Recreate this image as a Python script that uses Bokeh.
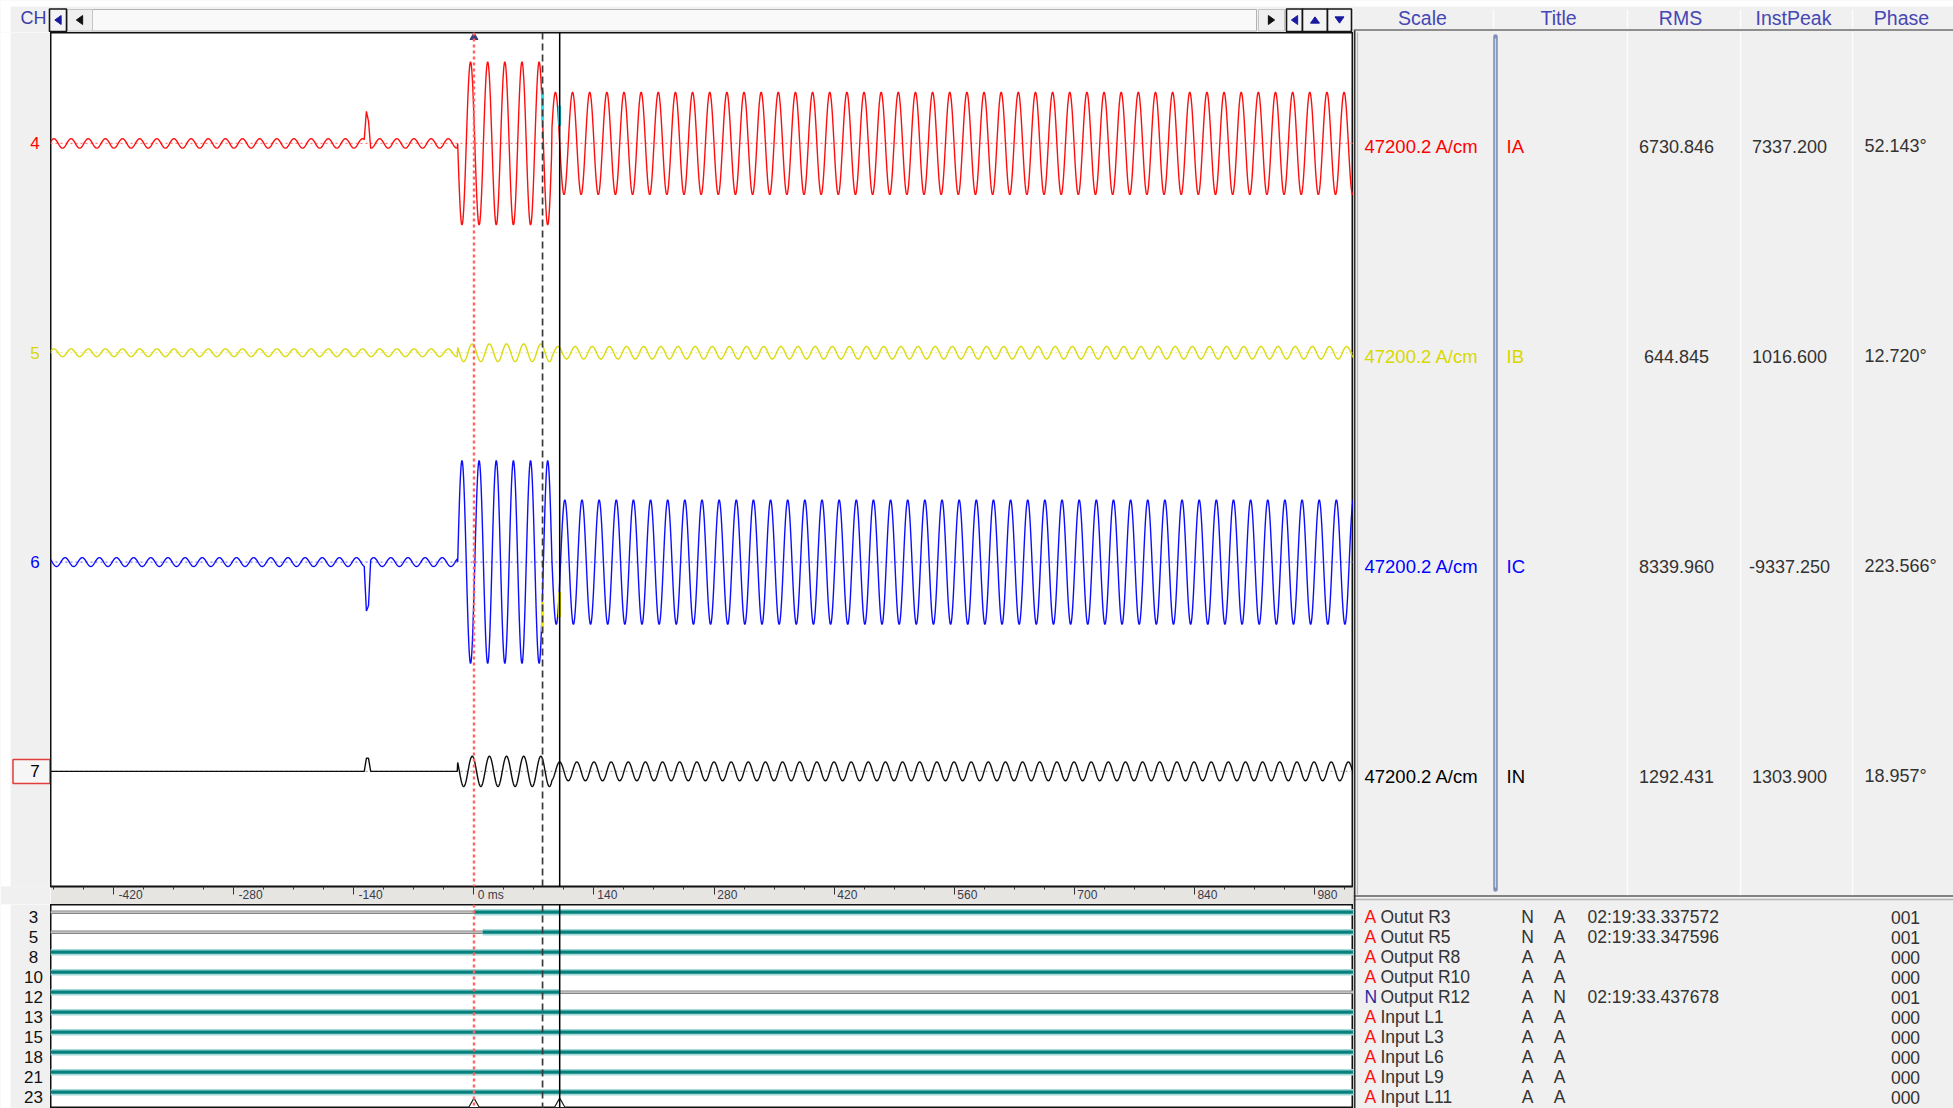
import numpy as np
from bokeh.plotting import figure
from bokeh.models import (Range1d, SingleIntervalTicker, CustomJSTickFormatter, Span)
from bokeh.layouts import row, column
from bokeh.core.properties import value
from bokeh.embed import file_html
from bokeh.resources import INLINE

# ---------------- values ----------------
TIME_WINDOW_MS = [-494, 1026]
FREQ_HZ = 50
TRIGGER_TIME = "02:19:33.337572"

CH_NUMBERS = ["4", "5", "6", "7"]
CH_TITLES = ["IA", "IB", "IC", "IN"]
CH_SCALES = ["47200.2 A/cm", "47200.2 A/cm", "47200.2 A/cm", "47200.2 A/cm"]
CH_RMS = ["6730.846", "644.845", "8339.960", "1292.431"]
CH_INSTPEAK = ["7337.200", "1016.600", "-9337.250", "1303.900"]
CH_PHASE = ["52.143°", "12.720°", "223.566°", "18.957°"]
TABLE_HEADERS = ["Scale", "Title", "RMS", "InstPeak", "Phase"]

# waveform segments: pre-fault | fault | after first change  (peak kA, time of a positive peak ms)
SEGMENT_EDGES_MS = [-19, 91]
IA_AMP_KA = [0.9, 15.6, 9.8]
IA_PEAK_MS = [10, 16, 15]
IB_AMP_KA = [0.75, 1.7, 1.2]
IB_PEAK_MS = [10, 18, 18]
IC_AMP_KA = [0.85, 19.4, 11.9]
IC_PEAK_MS = [3, 6, 6]
IN_AMP_KA = [0.0, 2.9, 1.8]
IN_PEAK_MS = [0, 18, 0]

# short transient seen at about -124 ms
SPIKE_MS = [-128.0, -125.5, -123.0, -120.5]
IA_SPIKE_KA = [0.0, 6.0, 4.8, 0.0]
IB_SPIKE_KA = [0.0, 0.0, 0.0, 0.0]
IC_SPIKE_KA = [0.0, -8.6, -8.0, 0.0]
IN_SPIKE_KA = [0.0, 2.5, 2.5, 0.0]

CURSOR_MS = [0, 80, 100]
MARK_MS = [80, 100]
IA_MARK_KA = [[4.4, 10.1], [3.4, 7.2]]
IC_MARK_KA = [[-7.6, -13.3], [-5.7, -10.5]]

DIG_CH = ["3", "5", "8", "10", "12", "13", "15", "18", "21", "23"]
DIG_NAME = ["Outut R3", "Outut R5", "Output R8", "Output R10", "Output R12",
            "Input L1", "Input L3", "Input L6", "Input L9", "Input L11"]
DIG_STATE = ["A", "A", "A", "A", "N", "A", "A", "A", "A", "A"]
DIG_COL1 = ["N", "N", "A", "A", "A", "A", "A", "A", "A", "A"]
DIG_COL2 = ["A", "A", "A", "A", "N", "A", "A", "A", "A", "A"]
DIG_TIME = ["02:19:33.337572", "02:19:33.347596", "", "", "02:19:33.437678",
            "", "", "", "", ""]
DIG_COUNT = ["001", "001", "000", "000", "001", "000", "000", "000", "000", "000"]
DIG_INITIAL = [0, 0, 1, 1, 1, 1, 1, 1, 1, 1]

# ---------------- layout / style ----------------
TOPBAR_H, WAVE_H, RULER_H, DIG_H = 32, 857, 15, 204
COL_W, PLOT_W, PANEL_W = 50, 1303, 600
LEFT_W = COL_W + PLOT_W
PANEL_H = TOPBAR_H + WAVE_H + RULER_H + DIG_H
KA_SPAN = 163.2
KA_TOP_OFFSET, KA_STEP = 21.2, 40.0
BASE_KA = [-(KA_TOP_OFFSET + KA_STEP * i) for i in range(4)]
CH_COLORS = ["#ff0000", "#d8d800", "#0000ff", "#000000"]
BASE_COLORS = ["#ff7a7a", "#e2e27a", "#7a7aff", "#a0a0a0"]
FONT = value("Liberation Sans")
DIG_TOP_ROW = -0.385
ROW_PX = 20.0
GRAY = "#f0f0f0"


def common(**kw):
    base = dict(output_backend="svg", toolbar_location=None, min_border=0,
                x_axis_location=None, y_axis_location=None)
    base.update(kw)
    p = figure(**base)
    p.xgrid.visible = False
    p.ygrid.visible = False
    return p


# ---------------- top bar ----------------
bar = common(width=LEFT_W, height=TOPBAR_H, x_range=Range1d(0, LEFT_W),
             y_range=Range1d(TOPBAR_H, 0), background_fill_color=GRAY,
             border_fill_color=GRAY, outline_line_color=None)
bar.quad(left=[0, 0], right=[LEFT_W, 10], top=[0, 0], bottom=[6, TOPBAR_H],
         fill_color="white", line_color=None)
bar.quad(left=[92], right=[1256], top=[9], bottom=[30.5],
         fill_color="#f9f9f9", line_color="#b4b4b4", line_width=1)
bar.quad(left=[67, 1258], right=[92, 1284], top=[9, 9], bottom=[30.5, 30.5],
         fill_color=GRAY, line_color="#c4c4c4", line_width=1)
bar.quad(left=[49, 1286, 1302, 1327], right=[66, 1302, 1327, 1351],
         top=[8.5] * 4, bottom=[31] * 4,
         fill_color="#f4f4f4", line_color="#151515", line_width=1.6)


def tri(cx, cy, d, s):
    h = s * 0.5
    if d == "left":
        return [cx + h * 0.7, cx + h * 0.7, cx - h * 0.7], [cy - h, cy + h, cy]
    if d == "right":
        return [cx - h * 0.7, cx - h * 0.7, cx + h * 0.7], [cy - h, cy + h, cy]
    if d == "up":
        return [cx - h, cx + h, cx], [cy + h * 0.7, cy + h * 0.7, cy - h * 0.7]
    return [cx - h, cx + h, cx], [cy - h * 0.7, cy - h * 0.7, cy + h * 0.7]


arrows = [(57.5, "left", "#1a1aa0"), (79, "left", "#111111"), (1271, "right", "#111111"),
          (1294, "left", "#1a1aa0"), (1314.5, "up", "#1a1aa0"), (1339, "down", "#1a1aa0")]
xs, ys, cs = [], [], []
for cx, d, c in arrows:
    px, py = tri(cx, 19.5, d, 9)
    xs.append(px); ys.append(py); cs.append(c)
bar.patches(xs, ys, fill_color=cs, line_color=cs)
bar.text(x=[33], y=[17], text=["CH"], text_font=FONT, text_font_size=value("18px"),
         text_color="#3c3cab", text_align="center", text_baseline="middle")

# ---------------- waveform plot ----------------
wave = common(width=PLOT_W, height=WAVE_H + RULER_H, min_border_bottom=RULER_H,
              x_range=Range1d(*TIME_WINDOW_MS), y_range=Range1d(-KA_SPAN, 0),
              x_axis_location="below", background_fill_color="white",
              border_fill_color="#e7e5e1", outline_line_color="#111111",
              outline_line_width=2)
ax = wave.xaxis[0]
ax.ticker = SingleIntervalTicker(interval=140, num_minor_ticks=4)
# labels sit just to the right of their tick: pad the centred label with no-break spaces
ax.formatter = CustomJSTickFormatter(code="""
    const s = (tick == 0) ? '0 ms' : String(tick);
    let w = 0;
    for (const c of s) {
        w += (c == '-') ? 0.333 : (c == ' ') ? 0.278 : (c == 'm') ? 0.833 : (c == 's') ? 0.5 : 0.556;
    }
    const n = Math.round((w * 12 + 8) / (0.278 * 12));
    return '\\u00a0'.repeat(n) + s;
""")
ax.axis_line_color = None
ax.major_tick_out = 8
ax.major_tick_in = 0
ax.minor_tick_out = 3
ax.minor_tick_in = 0
ax.major_tick_line_color = "#333333"
ax.minor_tick_line_color = "#333333"
ax.major_label_standoff = -7
ax.major_label_text_font = "Liberation Sans"
ax.major_label_text_font_size = "12px"
ax.major_label_text_color = "#3a3a4c"

t = np.arange(TIME_WINDOW_MS[0], TIME_WINDOW_MS[1] + 0.25, 0.5)
seg_idx = np.searchsorted(SEGMENT_EDGES_MS, t, side="right")


def trace(amp, peak, spike):
    a = np.asarray(amp, dtype=float)[seg_idx]
    pk = np.asarray(peak, dtype=float)[seg_idx]
    y = a * np.cos(2 * np.pi * FREQ_HZ * (t - pk) / 1000.0)
    return y + np.interp(t, SPIKE_MS, spike, left=0.0, right=0.0)


series = [trace(IA_AMP_KA, IA_PEAK_MS, IA_SPIKE_KA),
          trace(IB_AMP_KA, IB_PEAK_MS, IB_SPIKE_KA),
          trace(IC_AMP_KA, IC_PEAK_MS, IC_SPIKE_KA),
          trace(IN_AMP_KA, IN_PEAK_MS, IN_SPIKE_KA)]

for i in range(4):
    wave.line(x=list(TIME_WINDOW_MS), y=[BASE_KA[i]] * 2, line_color=BASE_COLORS[i],
              line_width=1.2, line_dash="2 3")
for i in range(4):
    wave.line(x=t, y=series[i] + BASE_KA[i], line_color=CH_COLORS[i], line_width=1.4,
              line_alpha=0.95)

# cursor value marks
for k, tm in enumerate(MARK_MS):
    wave.segment(x0=[tm], x1=[tm], y0=[BASE_KA[0] + IA_MARK_KA[k][0]],
                 y1=[BASE_KA[0] + IA_MARK_KA[k][1]], line_color="#20e0f0", line_width=3)
    wave.segment(x0=[tm], x1=[tm], y0=[BASE_KA[2] + IC_MARK_KA[k][0]],
                 y1=[BASE_KA[2] + IC_MARK_KA[k][1]], line_color="#f0f000", line_width=3)

# ---------------- digital plot ----------------
dig_rows = len(DIG_CH)
DIG_BOTTOM_ROW = DIG_TOP_ROW + DIG_H / ROW_PX
dig = common(width=PLOT_W, height=DIG_H, x_range=wave.x_range,
             y_range=Range1d(DIG_BOTTOM_ROW, DIG_TOP_ROW),
             background_fill_color="white", border_fill_color="white",
             outline_line_color="#111111", outline_line_width=2)


def hms_ms(s):
    h, m, sec = s.split(":")
    return (int(h) * 3600 + int(m) * 60 + float(sec)) * 1000.0


t_trig = hms_ms(TRIGGER_TIME)
on_x, on_y, off_x, off_y = [], [], [], []
for k in range(dig_rows):
    edges = [TIME_WINDOW_MS[0]]
    if DIG_TIME[k]:
        edges.append(hms_ms(DIG_TIME[k]) - t_trig)
    edges.append(TIME_WINDOW_MS[1])
    st = DIG_INITIAL[k]
    for j in range(len(edges) - 1):
        if st:
            on_x.append([edges[j], edges[j + 1]]); on_y.append([k, k])
        else:
            off_x.append([edges[j], edges[j + 1]]); off_y.append([k, k])
        st = 1 - st

dig.multi_line(off_x, off_y, line_color="#858585", line_width=3.5)
dig.multi_line(off_x, off_y, line_color="#d6d6d6", line_width=1.2)
dig.multi_line(on_x, on_y, line_color="#a6dad8", line_width=6.5)
dig.multi_line(on_x, on_y, line_color="#05807c", line_width=3.2)

# cursors
cursor_styles = [("#ff6464", "3 3", 2.4), ("#3a3a3a", "7 4", 1.7), ("#000000", "solid", 1.5)]
for fig in (wave, dig):
    for tm, (c, dash, w) in zip(CURSOR_MS, cursor_styles):
        fig.add_layout(Span(location=tm, dimension="height", line_color=c,
                            line_dash=dash, line_width=w))
wave.scatter(x=[CURSOR_MS[0]], y=[-0.9], marker="triangle", size=8,
             fill_color="#3c3c78", line_color="#3c3c78")
dig.scatter(x=[CURSOR_MS[0], CURSOR_MS[2]], y=[DIG_BOTTOM_ROW - 0.2] * 2,
            marker="triangle", size=11, fill_color="white", line_color="#222222",
            line_width=1.2)

# ---------------- left label columns ----------------
chcol = common(width=COL_W, height=WAVE_H + RULER_H, min_border_bottom=RULER_H,
               x_range=Range1d(0, COL_W), y_range=wave.y_range,
               background_fill_color=GRAY, border_fill_color=GRAY,
               outline_line_color=None)
chcol.quad(left=[0], right=[10], top=[0], bottom=[-KA_SPAN], fill_color="white",
           line_color=None)
chcol.rect(x=[31], y=[BASE_KA[3]], width=37, height=24, height_units="screen",
           fill_color="#f6f6f6", line_color="#e23c3c", line_width=1.5)
chcol.text(x=[34.5] * 4, y=BASE_KA, text=CH_NUMBERS, text_color=CH_COLORS,
           text_font=FONT, text_font_size=value("17px"), text_align="center",
           text_baseline="middle")

dlab = common(width=COL_W, height=DIG_H, x_range=Range1d(0, COL_W), y_range=dig.y_range,
              background_fill_color=GRAY, border_fill_color=GRAY,
              outline_line_color=None)
dlab.quad(left=[0], right=[10], top=[DIG_TOP_ROW], bottom=[DIG_BOTTOM_ROW],
          fill_color="white", line_color=None)
dlab.text(x=[33] * dig_rows, y=[k + 0.25 for k in range(dig_rows)], text=DIG_CH,
          text_color="#111111", text_font=FONT, text_font_size=value("17px"),
          text_align="center", text_baseline="middle")

# ---------------- right panel ----------------
panel = common(width=PANEL_W, height=PANEL_H, x_range=Range1d(0, PANEL_W),
               y_range=Range1d(PANEL_H, 0), background_fill_color=GRAY,
               border_fill_color=GRAY, outline_line_color=None)
px_per_ka = WAVE_H / KA_SPAN
row_y = [TOPBAR_H - b * px_per_ka + 2.5 for b in BASE_KA]
dig_top = TOPBAR_H + WAVE_H + RULER_H
dig_y = [dig_top + (k - DIG_TOP_ROW + 0.25) * ROW_PX for k in range(dig_rows)]

panel.quad(left=[0], right=[PANEL_W], top=[0], bottom=[6], fill_color="white",
           line_color=None)
sep_x = [274, 387, 499]
panel.segment(x0=[140] + sep_x, x1=[140] + sep_x, y0=[9] * 4, y1=[28] * 4,
              line_color="#fcfcfc", line_width=1.5)
panel.segment(x0=sep_x, x1=sep_x, y0=[32] * 3, y1=[895] * 3,
              line_color="#fcfcfc", line_width=1.5)
panel.segment(x0=[0], x1=[PANEL_W], y0=[29.5], y1=[29.5], line_color="#8e8e8e", line_width=2)
panel.segment(x0=[0], x1=[PANEL_W], y0=[895.5], y1=[895.5], line_color="#5e5e5e", line_width=1.6)
panel.segment(x0=[0], x1=[PANEL_W], y0=[899], y1=[899], line_color="#b4b4b4", line_width=1.6)
panel.segment(x0=[1], x1=[1], y0=[30], y1=[PANEL_H], line_color="#303030", line_width=2)
panel.segment(x0=[4], x1=[4], y0=[32], y1=[894], line_color="#b8b8b8", line_width=1.2)
panel.segment(x0=[142], x1=[142], y0=[36], y1=[889], line_color="#7e90b8", line_width=4.5,
              line_cap="round")
panel.segment(x0=[142], x1=[142], y0=[38], y1=[887], line_color="#cdd6ea", line_width=1.3)

panel.text(x=[69, 205, 327, 440, 548], y=[17] * 5, text=TABLE_HEADERS, text_color="#4646b4",
           text_font=FONT, text_font_size=value("19.5px"), text_align="center",
           text_baseline="middle")

tsize = value("18.5px")
vsize = value("18px")
panel.text(x=[11] * 4, y=row_y, text=CH_SCALES, text_color=CH_COLORS, text_font=FONT,
           text_font_size=tsize, text_align="left", text_baseline="middle")
panel.text(x=[153] * 4, y=row_y, text=CH_TITLES, text_color=CH_COLORS, text_font=FONT,
           text_font_size=tsize, text_align="left", text_baseline="middle")
panel.text(x=[323] * 4, y=row_y, text=CH_RMS, text_color="#333333", text_font=FONT,
           text_font_size=vsize, text_align="center", text_baseline="middle")
panel.text(x=[436] * 4, y=row_y, text=CH_INSTPEAK, text_color="#333333", text_font=FONT,
           text_font_size=vsize, text_align="center", text_baseline="middle")
panel.text(x=[511] * 4, y=row_y, text=CH_PHASE, text_color="#333333", text_font=FONT,
           text_font_size=vsize, text_align="left", text_baseline="middle")

bsize = value("17.5px")
state_colors = ["#ff1010" if s == "A" else "#2a2aa6" for s in DIG_STATE]
panel.text(x=[11] * dig_rows, y=dig_y, text=DIG_STATE, text_color=state_colors,
           text_font=FONT, text_font_size=bsize, text_align="left", text_baseline="middle")
panel.text(x=[27] * dig_rows, y=dig_y, text=DIG_NAME, text_color="#333333",
           text_font=FONT, text_font_size=bsize, text_align="left", text_baseline="middle")
panel.text(x=[174] * dig_rows, y=dig_y, text=DIG_COL1, text_color="#333333",
           text_font=FONT, text_font_size=bsize, text_align="center", text_baseline="middle")
panel.text(x=[206] * dig_rows, y=dig_y, text=DIG_COL2, text_color="#333333",
           text_font=FONT, text_font_size=bsize, text_align="center", text_baseline="middle")
panel.text(x=[234] * dig_rows, y=dig_y, text=DIG_TIME, text_color="#333333",
           text_font=FONT, text_font_size=bsize, text_align="left", text_baseline="middle")
panel.text(x=[552] * dig_rows, y=dig_y, text=DIG_COUNT, text_color="#333333",
           text_font=FONT, text_font_size=bsize, text_align="center", text_baseline="middle")

left = column(bar, row(chcol, wave, spacing=0), row(dlab, dig, spacing=0), spacing=0)
layout = row(left, panel, spacing=0)

open("out.html", "w").write(file_html(layout, INLINE))
